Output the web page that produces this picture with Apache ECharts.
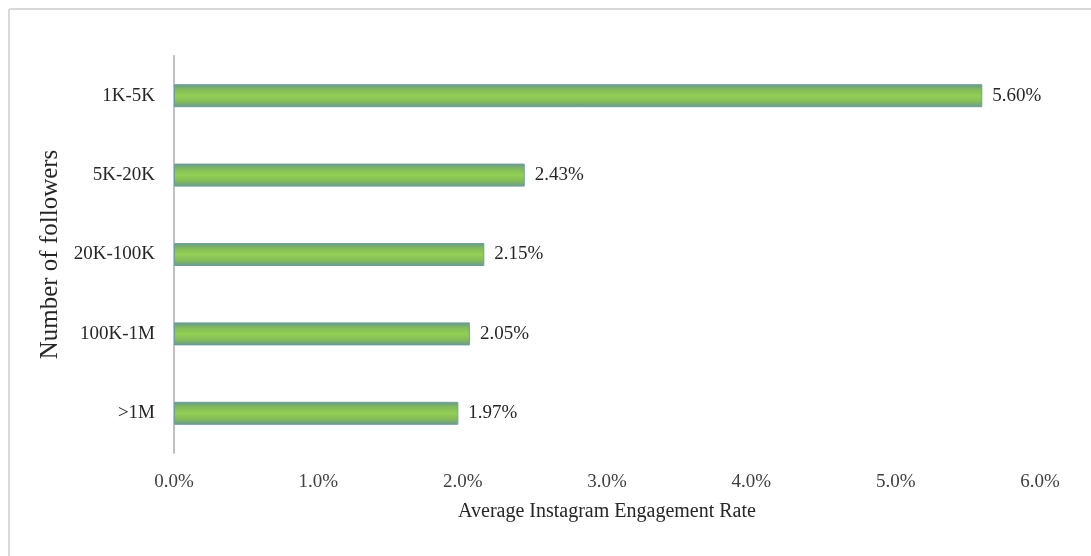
<!DOCTYPE html>
<html><head><meta charset="utf-8">
<script src="https://cdn.jsdelivr.net/npm/echarts@6/dist/echarts.min.js"></script>
<style>html,body{margin:0;padding:0;background:#fff}#c{width:1091px;height:556px}</style>
</head><body><div id="c"></div>
<script>
const categories = ['>1M', '100K-1M', '20K-100K', '5K-20K', '1K-5K'];
const values = [1.97, 2.05, 2.15, 2.43, 5.60];
const xTicks = [0, 1, 2, 3, 4, 5, 6];
const yName = 'Number of followers';
const xName = 'Average Instagram Engagement Rate';

const font = '"Liberation Serif", "DejaVu Serif", serif';
const chart = echarts.init(document.getElementById('c'));
const barColor = new echarts.graphic.LinearGradient(0, 0, 0, 1, [
  {offset: 0, color: '#679890'},
  {offset: 0.25, color: '#84bd58'},
  {offset: 0.5, color: '#92cf55'},
  {offset: 0.75, color: '#84bd58'},
  {offset: 1, color: '#679890'}
]);
chart.setOption({
  animation: false,
  graphic: [
    {type: 'line', shape: {x1: 9, y1: 9, x2: 1091, y2: 9}, style: {stroke: '#d9d9d9', lineWidth: 2}},
    {type: 'line', shape: {x1: 9, y1: 9, x2: 9, y2: 556}, style: {stroke: '#d9d9d9', lineWidth: 2}}
  ],
  grid: {left: 174, right: 51, top: 56, bottom: 103},
  xAxis: {
    type: 'value', min: xTicks[0], max: xTicks[xTicks.length - 1], interval: 1,
    axisLine: {show: false}, axisTick: {show: false}, splitLine: {show: false},
    axisLabel: {formatter: v => v.toFixed(1) + '%', fontFamily: font, fontSize: 19, color: '#404040', margin: 20},
    name: xName, nameLocation: 'middle', nameGap: 49,
    nameTextStyle: {fontFamily: font, fontSize: 20, color: '#262626'}
  },
  yAxis: {
    type: 'category', data: categories,
    axisLine: {show: true, lineStyle: {color: '#c0c0c0', width: 2}},
    axisTick: {show: false},
    axisLabel: {fontFamily: font, fontSize: 19, color: '#262626', margin: 19},
    name: yName, nameLocation: 'middle', nameGap: 104, nameRotate: 90,
    nameTextStyle: {fontFamily: font, fontSize: 25, color: '#262626'}
  },
  series: [{
    type: 'bar', data: values, barWidth: 23,
    itemStyle: {color: barColor, borderColor: '#6f9e9e', borderWidth: 1},
    label: {show: true, position: 'right', distance: 10, formatter: p => p.value.toFixed(2) + '%',
      fontFamily: font, fontSize: 19, color: '#262626'}
  }]
});
</script></body></html>
